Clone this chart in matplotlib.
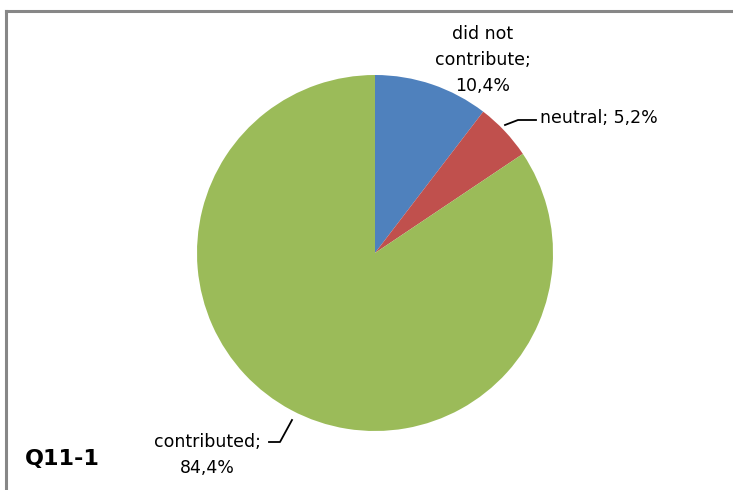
import matplotlib
matplotlib.use("Agg")
import matplotlib.pyplot as plt
from matplotlib.lines import Line2D

categories = ["did not contribute", "neutral", "contributed"]
values = [10.4, 5.2, 84.4]
colors = ["#4F81BD", "#C0504D", "#9BBB59"]
label_texts = ["did not\ncontribute;\n10,4%", "neutral; 5,2%", "contributed;\n84,4%"]
title = "Q11-1"

W, H = 733, 490
fig = plt.figure(figsize=(W / 100, H / 100), dpi=100)
ax = fig.add_axes([0, 0, 1, 1])

cx, cy, r = 375, H - 253, 178
ax.pie(values, colors=colors, startangle=90, counterclock=False,
       center=(cx, cy), radius=r, frame=True,
       wedgeprops=dict(linewidth=0))
ax.set_xlim(0, W)
ax.set_ylim(0, H)
ax.set_aspect("equal")
ax.axis("off")

font = "DejaVu Sans"
fs = 12.5
# labels
ax.text(483, H - 60, label_texts[0], ha="center", va="center", fontsize=fs,
        family=font, linespacing=1.55, color="black")
ax.text(540, H - 118, label_texts[1], ha="left", va="center", fontsize=fs,
        family=font, color="black")
ax.text(207, H - 455, label_texts[2], ha="center", va="center", fontsize=fs,
        family=font, linespacing=1.55, color="black")

# leader lines
ax.add_line(Line2D([505, 518, 536], [H - 125, H - 120, H - 120], color="black", lw=1.3))
ax.add_line(Line2D([292, 280, 269], [H - 420, H - 442, H - 442], color="black", lw=1.3))

ax.text(25, H - 459, title, ha="left", va="center", fontsize=16, fontweight="bold",
        family=font, color="black")

# frame (top and left edges)
ax.add_line(Line2D([6, W], [H - 11, H - 11], color="#878787", lw=2.2))
ax.add_line(Line2D([6, 6], [H - 11, 0], color="#878787", lw=2.2))

fig.savefig("out.png", dpi=100)
